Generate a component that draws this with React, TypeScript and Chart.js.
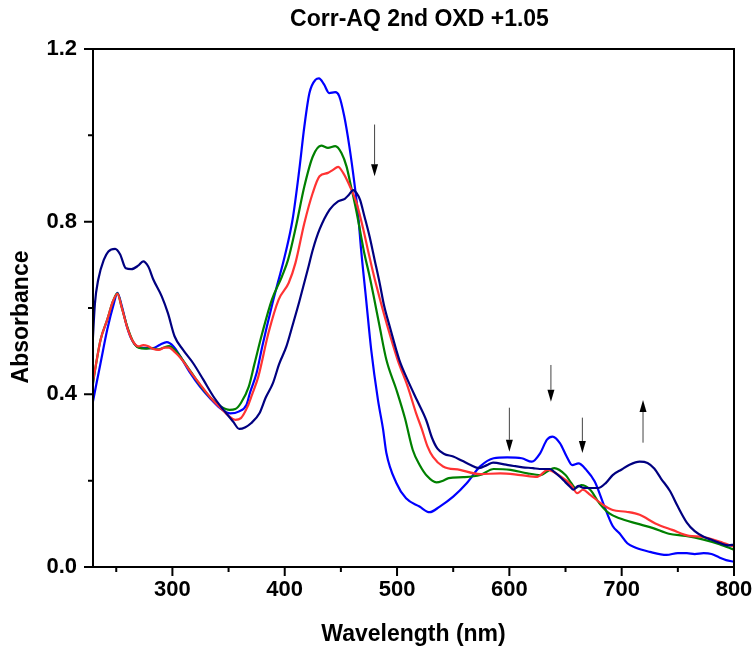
import React, { useEffect, useRef } from "react";
import { Chart, registerables } from "chart.js";
Chart.register(...registerables);

const chartTitle = "Corr-AQ 2nd OXD +1.05";
const xLabel = "Wavelength (nm)";
const yLabel = "Absorbance";
const xMin = 229.3;
const xMax = 800;
const yMin = 0;
const yMax = 1.2;
const xMajorTicks = [300, 400, 500, 600, 700, 800];
const xMinorTicks = [250, 350, 450, 550, 650, 750];
const yMajorTicks = [0, 0.4, 0.8, 1.2];
const yMinorTicks = [0.2, 0.6, 1.0];

const navyWl = [229, 231, 234, 239, 243, 249, 253.5, 258.5, 263.5, 269.5, 274, 278.5, 283, 290.5, 296, 302, 309.5, 318.5, 327.5, 336.5, 345.5, 354, 359.5, 365, 370, 377.5, 383, 389.5, 395, 401.5, 407, 413, 420.5, 425, 431, 440, 447.5, 453.5, 457, 461, 464, 467, 471, 475.5, 480, 484.5, 488.5, 493.5, 502, 510, 518, 526, 531, 536, 542, 550, 558, 565, 573, 580, 585.5, 597, 604, 612, 621, 627, 636, 641, 645, 650, 654, 657, 661.5, 665, 669, 679, 686, 692, 700, 707, 716, 723, 729, 735, 743, 750, 758, 765, 773, 780, 788, 795, 800];
const navyAbs = [0.52, 0.61, 0.666, 0.712, 0.731, 0.737, 0.724, 0.692, 0.69, 0.698, 0.708, 0.696, 0.666, 0.627, 0.588, 0.534, 0.503, 0.472, 0.434, 0.395, 0.364, 0.337, 0.32, 0.324, 0.333, 0.356, 0.392, 0.426, 0.47, 0.511, 0.56, 0.615, 0.689, 0.735, 0.782, 0.828, 0.847, 0.853, 0.862, 0.873, 0.866, 0.851, 0.812, 0.766, 0.712, 0.658, 0.605, 0.557, 0.48, 0.43, 0.385, 0.34, 0.3, 0.274, 0.262, 0.256, 0.246, 0.237, 0.229, 0.236, 0.242, 0.237, 0.234, 0.231, 0.229, 0.227, 0.227, 0.218, 0.209, 0.196, 0.186, 0.179, 0.188, 0.184, 0.183, 0.183, 0.195, 0.213, 0.226, 0.237, 0.244, 0.241, 0.228, 0.205, 0.176, 0.14, 0.103, 0.083, 0.07, 0.063, 0.055, 0.05, 0.052];

const blueWl = [229, 232, 236, 242, 248, 251, 255, 259.5, 264, 270, 277.5, 283, 289, 295, 301, 307, 316, 324.5, 333.5, 342.5, 351.5, 359, 366, 369, 375, 380, 389, 394, 400, 407, 413, 417.5, 422, 427.5, 430.5, 435, 439.5, 445, 448.5, 453, 457.5, 462, 465.5, 468, 472.5, 477, 483, 487.5, 490.5, 499.5, 508, 520, 529, 538, 550, 562, 574, 586, 598, 611, 620, 627.5, 633.5, 638.5, 645, 651, 656, 661.5, 668.5, 676, 683.5, 692, 698, 705, 712, 725, 740, 750, 758, 765, 773, 780, 787, 793, 800];
const blueAbs = [0.38, 0.42, 0.472, 0.55, 0.612, 0.635, 0.604, 0.557, 0.526, 0.509, 0.507, 0.507, 0.515, 0.521, 0.511, 0.488, 0.449, 0.418, 0.391, 0.368, 0.356, 0.36, 0.376, 0.403, 0.45, 0.511, 0.61, 0.66, 0.72, 0.805, 0.921, 1.021, 1.098, 1.129, 1.132, 1.118, 1.098, 1.1, 1.091, 1.044, 0.975, 0.89, 0.812, 0.735, 0.619, 0.503, 0.387, 0.32, 0.264, 0.194, 0.159, 0.14, 0.127, 0.14, 0.163, 0.194, 0.233, 0.252, 0.254, 0.252, 0.244, 0.264, 0.295, 0.302, 0.287, 0.256, 0.236, 0.24, 0.225, 0.198, 0.148, 0.095, 0.078, 0.055, 0.045, 0.035, 0.028, 0.032, 0.032, 0.03, 0.032, 0.03, 0.022, 0.016, 0.012];

const greenWl = [229, 232, 236, 242, 247, 251, 255, 260, 265, 270, 276, 281, 287, 292, 297, 302, 308, 317, 325, 334, 343, 351, 356, 361, 368, 373, 380, 388.5, 397.5, 403, 410, 417.5, 425, 432.5, 438.5, 445, 450.5, 455, 459, 463.5, 468, 471, 475, 479, 484.5, 490.5, 499.5, 507, 514, 520, 527, 535, 541, 546, 559, 574, 586, 601, 616, 628, 634, 640, 650, 655, 659, 664, 672, 680, 689, 698, 713, 728, 742, 757, 772, 787, 800];
const greenAbs = [0.42, 0.47, 0.526, 0.573, 0.615, 0.634, 0.6, 0.555, 0.522, 0.508, 0.506, 0.507, 0.504, 0.508, 0.512, 0.503, 0.484, 0.45, 0.42, 0.392, 0.372, 0.364, 0.366, 0.38, 0.418, 0.47, 0.542, 0.619, 0.673, 0.712, 0.789, 0.882, 0.951, 0.976, 0.971, 0.975, 0.959, 0.928, 0.882, 0.828, 0.766, 0.725, 0.68, 0.63, 0.557, 0.48, 0.41, 0.345, 0.271, 0.237, 0.21, 0.196, 0.2, 0.206, 0.208, 0.213, 0.227, 0.225, 0.217, 0.213, 0.222, 0.229, 0.213, 0.195, 0.183, 0.19, 0.179, 0.148, 0.124, 0.113, 0.101, 0.09, 0.077, 0.072, 0.064, 0.053, 0.04];

const redWl = [229, 232, 236, 242, 247, 251, 255, 260, 265, 270, 274, 278, 283, 288, 293, 297, 302, 308, 316.5, 325, 334, 343, 350, 356, 361, 367, 371, 376.5, 385.5, 394.5, 403.5, 409.5, 417.5, 425, 431, 438.5, 443, 447.5, 452, 458, 464, 470, 474, 478, 482, 491.5, 500.5, 509.5, 517, 522, 527, 532, 541, 556, 574, 592, 610, 625, 634, 646, 655, 660.5, 665.5, 672, 683.5, 692, 704, 716, 730, 745, 760, 772, 787, 800];
const redAbs = [0.426, 0.47, 0.526, 0.573, 0.615, 0.633, 0.6, 0.553, 0.522, 0.511, 0.514, 0.512, 0.505, 0.503, 0.508, 0.508, 0.498, 0.482, 0.451, 0.422, 0.392, 0.368, 0.35, 0.341, 0.345, 0.372, 0.4, 0.441, 0.542, 0.619, 0.658, 0.704, 0.797, 0.867, 0.905, 0.913, 0.92, 0.927, 0.913, 0.882, 0.843, 0.782, 0.735, 0.69, 0.648, 0.557, 0.48, 0.418, 0.356, 0.32, 0.28, 0.255, 0.233, 0.225, 0.215, 0.217, 0.213, 0.209, 0.225, 0.209, 0.19, 0.171, 0.179, 0.167, 0.144, 0.132, 0.128, 0.121, 0.101, 0.086, 0.072, 0.07, 0.059, 0.047];

const arrowWl = [480, 600, 637, 665, 719];
const arrowFrom = [1.025, 0.369, 0.468, 0.346, 0.288];
const arrowTo = [0.905, 0.267, 0.383, 0.264, 0.387];

const FONT = "'Liberation Sans', Arial, sans-serif";

function pts(xs: number[], ys: number[]) {
  return xs.map((x, i) => ({ x, y: ys[i] }));
}

const decorPlugin = {
  id: "decor",
  afterDatasetsDraw(chart: any) {
    const { ctx, chartArea: a, scales } = chart;
    const xs = scales.x;
    const ys = scales.y;
    ctx.save();
    // arrows
    for (let i = 0; i < arrowWl.length; i++) {
      const px = xs.getPixelForValue(arrowWl[i]);
      const y0 = ys.getPixelForValue(arrowFrom[i]);
      const y1 = ys.getPixelForValue(arrowTo[i]);
      const dir = y1 > y0 ? 1 : -1;
      const headLen = 12;
      ctx.strokeStyle = "#444";
      ctx.lineWidth = 1;
      ctx.beginPath();
      ctx.moveTo(px, y0);
      ctx.lineTo(px, y1 - dir * headLen);
      ctx.stroke();
      ctx.fillStyle = "#000";
      ctx.beginPath();
      ctx.moveTo(px, y1);
      ctx.lineTo(px - 3.5, y1 - dir * headLen);
      ctx.lineTo(px + 3.5, y1 - dir * headLen);
      ctx.closePath();
      ctx.fill();
    }
    // frame
    ctx.strokeStyle = "#000";
    ctx.lineWidth = 2;
    ctx.strokeRect(a.left, a.top, a.right - a.left, a.bottom - a.top);
    // ticks
    ctx.beginPath();
    xMajorTicks.forEach((v) => {
      const p = xs.getPixelForValue(v);
      ctx.moveTo(p, a.bottom);
      ctx.lineTo(p, a.bottom + 9);
    });
    xMinorTicks.forEach((v) => {
      const p = xs.getPixelForValue(v);
      ctx.moveTo(p, a.bottom);
      ctx.lineTo(p, a.bottom + 5);
    });
    yMajorTicks.forEach((v) => {
      const p = ys.getPixelForValue(v);
      ctx.moveTo(a.left, p);
      ctx.lineTo(a.left - 9, p);
    });
    yMinorTicks.forEach((v) => {
      const p = ys.getPixelForValue(v);
      ctx.moveTo(a.left, p);
      ctx.lineTo(a.left - 5, p);
    });
    ctx.stroke();
    // title
    ctx.fillStyle = "#000";
    ctx.font = `bold 23px ${FONT}`;
    ctx.textAlign = "center";
    ctx.textBaseline = "middle";
    ctx.fillText(chartTitle, (a.left + a.right) / 2 + 6, 20);
    // y axis title
    ctx.save();
    ctx.translate(22, 317);
    ctx.rotate(-Math.PI / 2);
    ctx.fillText(yLabel, 0, 0);
    ctx.restore();
    ctx.restore();
  },
};

export default function App() {
  const ref = useRef<HTMLCanvasElement | null>(null);
  useEffect(() => {
    if (!ref.current) return;
    const lw = 2.2;
    const chart = new Chart(ref.current, {
      type: "line",
      data: {
        datasets: [
          { label: "final", data: pts(navyWl, navyAbs), borderColor: "#000080", borderWidth: lw, pointRadius: 0, cubicInterpolationMode: "monotone" },
          { label: "red", data: pts(redWl, redAbs), borderColor: "#ff3333", borderWidth: lw, pointRadius: 0, cubicInterpolationMode: "monotone" },
          { label: "green", data: pts(greenWl, greenAbs), borderColor: "#008000", borderWidth: lw, pointRadius: 0, cubicInterpolationMode: "monotone" },
          { label: "initial", data: pts(blueWl, blueAbs), borderColor: "#0000ff", borderWidth: lw, pointRadius: 0, cubicInterpolationMode: "monotone" },
        ],
      },
      options: {
        responsive: false,
        animation: false,
        layout: { padding: { top: 49, right: 22, left: 0, bottom: 0 } },
        plugins: { legend: { display: false }, title: { display: false }, tooltip: { enabled: false } },
        scales: {
          x: {
            type: "linear",
            min: xMin,
            max: xMax,
            grid: { display: false, drawTicks: false },
            border: { display: false },
            afterBuildTicks: (s: any) => {
              s.ticks = xMajorTicks.map((v) => ({ value: v }));
            },
            afterFit: (s: any) => {
              s.height = 84;
              s.paddingLeft = 0;
              s.paddingRight = 0;
            },
            ticks: {
              color: "#000",
              padding: 10,
              maxRotation: 0,
              autoSkip: false,
              font: { family: FONT, size: 22, weight: "bold" },
              callback: (v: any) => String(v),
            },
            title: {
              display: true,
              text: xLabel,
              color: "#000",
              padding: { top: 0, bottom: 3 },
              font: { family: FONT, size: 23, weight: "bold" },
            },
          },
          y: {
            type: "linear",
            min: yMin,
            max: yMax,
            grid: { display: false, drawTicks: false },
            border: { display: false },
            afterBuildTicks: (s: any) => {
              s.ticks = yMajorTicks.map((v) => ({ value: v }));
            },
            afterFit: (s: any) => {
              s.width = 93;
              s.paddingTop = 0;
              s.paddingBottom = 0;
            },
            ticks: {
              color: "#000",
              padding: 16,
              autoSkip: false,
              font: { family: FONT, size: 22, weight: "bold" },
              callback: (v: any) => Number(v).toFixed(1),
            },
            title: { display: false },
          },
        },
      },
      plugins: [decorPlugin],
    });
    return () => chart.destroy();
  }, []);
  return (
    <div style={{ position: "absolute", left: 0, top: 0, width: 756, height: 651, background: "#fff" }}>
      <canvas ref={ref} width={756} height={651} />
    </div>
  );
}
